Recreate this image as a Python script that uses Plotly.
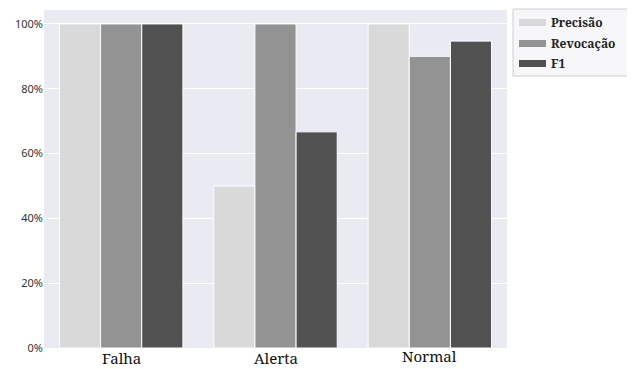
import plotly.graph_objects as go

categories = ["Falha", "Alerta", "Normal"]
series_names = ["Precisão", "Revocação", "F1"]
precisao = [1.0, 0.5, 1.0]
revocacao = [1.0, 1.0, 0.9]
f1 = [1.0, 0.667, 0.947]
colors = ["#d9d9d9", "#939393", "#515151"]

# page body has an 8px margin; size the figure so it fills the window
OFF = 8
W, H = 635 - OFF, 369 - OFF
# plot area in screen pixels: x 44..507, y 10..348
L, T = 44 - OFF, 10 - OFF
R = W - (507 - OFF)
B = H - (348 - OFF)
pw, ph = W - L - R, H - T - B

def px(x):
    return (x - OFF - L) / pw

def py(y):
    return (H - B - (y - OFF)) / ph

fig = go.Figure()
for name, vals, c in zip(series_names, [precisao, revocacao, f1], colors):
    fig.add_trace(go.Bar(x=categories, y=vals, name=name, marker_color=c,
                         marker_line=dict(color="white", width=1), showlegend=False))

shapes = [dict(type="rect", xref="paper", yref="paper",
               x0=px(513), x1=px(633), y0=py(76), y1=py(9),
               fillcolor="#f7f7f9", line=dict(color="#cfcfcf", width=1))]
annotations = []
rows = [22.5, 43.5, 63.5]
for name, c, yc in zip(series_names, colors, rows):
    shapes.append(dict(type="rect", xref="paper", yref="paper",
                       x0=px(519), x1=px(546), y0=py(yc + 3.5), y1=py(yc - 3.5),
                       fillcolor=c, line=dict(width=0)))
    annotations.append(dict(xref="paper", yref="paper", x=px(549), y=py(yc),
                            xanchor="left", yanchor="middle", showarrow=False,
                            text="<b>" + name + "</b>",
                            font=dict(family="Noto Serif, DejaVu Serif", size=12, color="#222")))

# category labels (slightly staggered vertically, as in the reference)
label_y = [357.5, 358, 355.5]
for cat, yy in zip(categories, label_y):
    annotations.append(dict(xref="x", yref="paper", x=cat, y=py(yy),
                            xanchor="center", yanchor="middle", showarrow=False,
                            text=cat,
                            font=dict(family="Noto Serif, DejaVu Serif", size=15, color="#111")))

fig.update_layout(
    width=W, height=H,
    margin=dict(l=L, r=R, t=T, b=B, autoexpand=False),
    paper_bgcolor="white", plot_bgcolor="#eaeaf2",
    barmode="group", bargap=0.2, bargroupgap=0,
    showlegend=False,
    shapes=shapes, annotations=annotations,
    xaxis=dict(range=[-0.5, 2.5], showgrid=False, ticks="", showticklabels=False),
    yaxis=dict(range=[0, 1.043], tickvals=[0, 0.2, 0.4, 0.6, 0.8, 1.0],
               tickformat=".0%", gridcolor="white", gridwidth=1, zeroline=False,
               ticks="", tickfont=dict(family="Noto Sans", size=11, color="#333")),
)
fig.write_html("out.html")
